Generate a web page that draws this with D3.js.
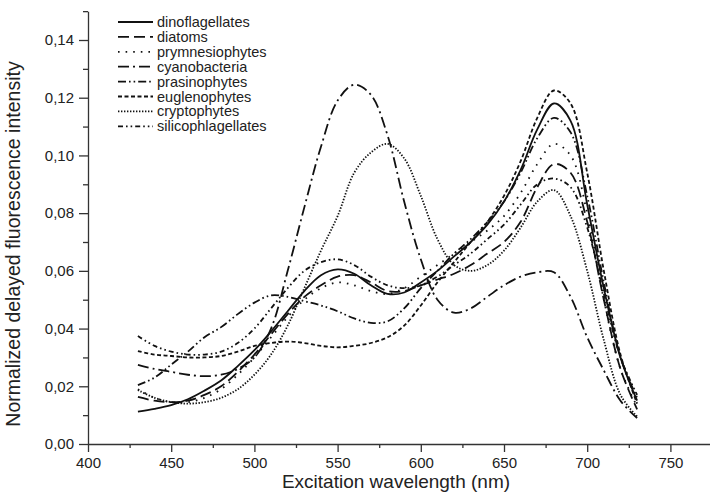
<!DOCTYPE html>
<html>
<head>
<meta charset="utf-8">
<script src="https://cdn.jsdelivr.net/npm/d3@7"></script>
<style>
  body { margin: 0; background: #fff; }
  text { font-family: "Liberation Sans", Arial, sans-serif; fill: #222; }
</style>
</head>
<body>
<div id="chart"></div>
<script>
// wavelengths (nm) shared by every series
var wavelengths = [430, 440, 450, 460, 470, 480, 490, 500, 510, 520, 530, 540, 550, 560, 570, 580,
                   590, 600, 610, 620, 630, 640, 650, 660, 670, 680, 690, 700, 710, 720, 730];

var dinoflagellates = [.0112, .0122, .0135, .0155, .0185, .022, .027, .0325, .039, .046, .053, .0585, .0605, .059, .055, .052,
                       .0525, .056, .060, .065, .070, .076, .084, .095, .109, .118, .112, .083, .054, .030, .015];
var diatoms = [.0163, .015, .0145, .015, .017, .020, .025, .031, .038, .045, .051, .055, .058, .0585, .056, .053,
               .053, .055, .057, .059, .062, .066, .070, .077, .089, .097, .094, .077, .050, .026, .012];
var prymnesiophytes = [.019, .016, .0145, .0145, .016, .019, .024, .030, .037, .044, .050, .054, .056, .055, .053, .052,
                       .054, .058, .062, .066, .070, .074, .079, .087, .097, .104, .100, .080, .050, .026, .013];
var cyanobacteria = [.0274, .026, .025, .024, .0235, .024, .026, .030, .040, .060, .082, .103, .119, .1245, .121, .107,
                     .084, .064, .050, .0455, .047, .051, .055, .058, .0595, .0595, .051, .037, .0255, .015, .009];
var prasinophytes = [.0204, .023, .0275, .032, .037, .0405, .045, .049, .0515, .051, .0495, .048, .046, .0435, .042, .0425,
                     .047, .054, .060, .066, .071, .077, .084, .094, .106, .113, .108, .086, .056, .030, .016];
var euglenophytes = [.0322, .031, .0305, .030, .030, .0305, .032, .034, .035, .0355, .035, .034, .0335, .034, .035, .037,
                     .041, .048, .056, .063, .070, .077, .086, .098, .113, .1225, .118, .094, .060, .031, .014];
var cryptophytes = [.0187, .016, .0145, .014, .0145, .016, .019, .024, .031, .041, .054, .067, .079, .094, .101, .104,
                    .099, .086, .071, .062, .060, .062, .067, .075, .084, .088, .079, .060, .036, .017, .0095];
var silicophlagellates = [.0374, .034, .032, .031, .031, .032, .035, .040, .047, .054, .060, .063, .064, .062, .058, .055,
                          .054, .055, .058, .062, .066, .071, .076, .083, .090, .092, .089, .075, .052, .030, .017];

var seriesNames = ["dinoflagellates", "diatoms", "prymnesiophytes", "cyanobacteria",
                   "prasinophytes", "euglenophytes", "cryptophytes", "silicophlagellates"];
var seriesValues = [dinoflagellates, diatoms, prymnesiophytes, cyanobacteria,
                    prasinophytes, euglenophytes, cryptophytes, silicophlagellates];
var dashes = [null, "11,5", "1.6,6", "11,4,2,4", "8,3,1.6,3,1.6,3", "4,2.5", "1.4,1.6", "5,3,1.6,3,1.6,3"];

var xTicks = [400, 450, 500, 550, 600, 650, 700, 750];
var yTicks = [0, 0.02, 0.04, 0.06, 0.08, 0.10, 0.12, 0.14];

var width = 710, height = 498;
var mLeft = 88, mTop = 10, mBottom = 444;

var svg = d3.select("#chart").append("svg").attr("width", width).attr("height", height);

var x = d3.scaleLinear().domain([400, 775]).range([mLeft, 712]);
var y = d3.scaleLinear().domain([0, 0.15]).range([mBottom, mBottom - 0.15 / 0.14 * 404]);

function comma(v) { return d3.format(".2f")(v).replace(".", ","); }

// minor ticks first
svg.append("g").attr("transform", "translate(0," + mBottom + ")")
  .call(d3.axisBottom(x).tickValues(d3.range(425, 776, 50)).tickSize(4).tickFormat(""))
  .call(function(g) { g.select(".domain").remove(); });
svg.append("g").attr("transform", "translate(" + mLeft + ",0)")
  .call(d3.axisLeft(y).tickValues(d3.range(0.01, 0.151, 0.02)).tickSize(5).tickFormat(""))
  .call(function(g) { g.select(".domain").remove(); });

var xAxis = svg.append("g").attr("transform", "translate(0," + mBottom + ")")
  .call(d3.axisBottom(x).tickValues(xTicks).tickSize(8).tickSizeOuter(0).tickPadding(5));
var yAxis = svg.append("g").attr("transform", "translate(" + mLeft + ",0)")
  .call(d3.axisLeft(y).tickValues(yTicks).tickSize(9).tickSizeOuter(0).tickPadding(5).tickFormat(comma));

svg.selectAll(".domain, .tick line").attr("stroke", "#333").attr("stroke-width", 1.3);
xAxis.selectAll("text").attr("font-size", 15).attr("fill", "#333");
yAxis.selectAll("text").attr("font-size", 15).attr("fill", "#333");

svg.append("text").attr("x", 396).attr("y", 488).attr("text-anchor", "middle")
  .attr("font-size", 19).text("Excitation wavelength (nm)");
svg.append("text").attr("transform", "translate(20,244) rotate(-90)").attr("text-anchor", "middle")
  .attr("font-size", 19.5).text("Normalized delayed fluorescence intensity");

var line = d3.line()
  .x(function(d, i) { return x(wavelengths[i]); })
  .y(function(d) { return y(d); })
  .curve(d3.curveCatmullRom);

svg.selectAll(".series")
  .data(seriesValues)
  .enter().append("path")
  .attr("class", "series")
  .attr("d", line)
  .attr("fill", "none")
  .attr("stroke", "#111")
  .attr("stroke-width", 1.8)
  .attr("stroke-dasharray", function(d, i) { return dashes[i]; });

var legend = svg.selectAll(".leg")
  .data(seriesNames)
  .enter().append("g")
  .attr("transform", function(d, i) { return "translate(118," + (22 + i * 14.9) + ")"; });
legend.append("line")
  .attr("x1", 0).attr("x2", 35).attr("y1", 0).attr("y2", 0)
  .attr("stroke", "#111").attr("stroke-width", 1.8)
  .attr("stroke-dasharray", function(d, i) { return dashes[i]; });
legend.append("text")
  .attr("x", 39).attr("y", 5).attr("font-size", 14.5)
  .text(function(d) { return d; });
</script>
</body>
</html>
